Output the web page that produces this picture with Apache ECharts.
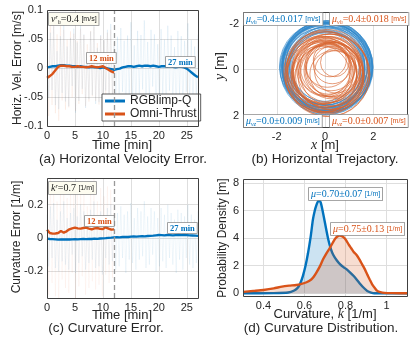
<!DOCTYPE html>
<html>
<head>
<meta charset="utf-8">
<script src="https://cdn.jsdelivr.net/npm/echarts@6/dist/echarts.min.js"></script>
<style>
  html, body { margin: 0; padding: 0; background: #fff; }
  #chart { width: 416px; height: 339px; }
</style>
</head>
<body>
<div id="chart"></div>
<script>
// ---- data ----
// (a) horizontal velocity error, smoothed, sampled every 0.5 min
var velErrQ = [0.001,0.002,0.003,0.003,0.004,0.005,0.005,0.004,0.004,0.003,0.003,0.002,0.003,0.002,0.002,0.001,0.002,0.001,0.001,0.000,
  0.001,0.000,-0.001,-0.002,-0.003,-0.002,-0.001,0.001,0.002,0.003,0.003,0.002,0.003,0.004,0.003,0.004,0.004,0.003,0.004,0.003,
  0.002,0.003,0.003,0.002,0.003,0.002,0.001,0.002,0.002,0.001,-0.001,-0.005,-0.009,-0.013,-0.016];
var velErrO = [-0.017,-0.014,-0.010,-0.004,0.002,0.004,0.004,0.003,0.003,0.002,0.002,0.003,0.002,0.002,0.001,0.002,0.003,0.002,0.001,0.002,
  0.003,0.000,-0.003,-0.006,-0.008];
// raw (unsmoothed) error, sampled every 0.3 min
var velRawQ = [0.046,-0.052,0.061,-0.038,0.072,-0.064,0.029,-0.071,0.055,-0.043,0.083,-0.058,0.037,-0.066,0.052,-0.031,0.068,-0.077,0.044,-0.057,
  0.074,-0.036,0.058,-0.069,0.027,-0.054,0.063,-0.047,0.088,-0.062,0.035,-0.059,0.057,-0.081,0.048,-0.039,0.066,-0.055,0.076,-0.049,
  0.038,-0.067,0.054,-0.058,0.069,-0.041,0.047,-0.079,0.056,-0.046,0.079,-0.053,0.039,-0.068,0.064,-0.044,0.057,-0.037,0.082,-0.063,
  0.045,-0.056,0.066,-0.032,0.058,-0.076,0.041,-0.061,0.067,-0.048,0.049,-0.065,0.073,-0.039,0.056,-0.058,0.036,-0.078,0.064,-0.047,
  0.055,-0.069,0.047,-0.041,0.077,-0.057,0.048,-0.064,0.037,-0.051,0.058];
var velRawO = [0.071,-0.083,0.092,-0.064,0.085,-0.078,0.058,-0.091,0.074,-0.056,0.066,-0.072,0.049,-0.068,0.063,-0.051,0.059,-0.074,0.047,-0.062,
  0.068,-0.045,0.057,-0.066,0.041,-0.058,0.064,-0.049,0.071,-0.057,0.043,-0.063,0.055,-0.069,0.048,-0.052,0.061,-0.047,0.066,-0.054,0.045];

// (b) trajectory loops: [cx, cy, r] in metres
var loopsQ = [[0.05,-0.1,1.85],[0.1,-0.05,1.9],[0.0,-0.15,1.8],[0.08,-0.12,1.95],[-0.02,-0.08,1.7],[0.12,-0.1,1.88],[0.05,0.0,1.62],
  [0.0,-0.2,1.82],[0.1,-0.15,1.92],[0.03,-0.05,1.55],[0.15,-0.08,1.85],[-0.05,-0.12,1.75],[0.07,-0.18,1.9],[0.02,0.02,1.68],
  [0.1,-0.1,1.5],[0.06,-0.06,1.98],[-0.08,-0.15,1.85],[0.15,-0.02,1.8],[0.0,-0.1,1.45],[0.08,-0.25,1.75],[0.04,-0.12,1.88],
  [0.18,-0.14,1.7],[-0.1,-0.04,1.8],[0.09,-0.08,1.93],[0.02,-0.1,1.6],[0.11,-0.16,1.8],[0.05,0.05,1.86],[-0.04,-0.22,1.73],
  [0.07,-0.07,1.9],[0.16,-0.11,1.65]];
var loopsO = [[0.1,0.1,1.5],[0.0,0.2,1.6],[0.2,0.0,1.4],[-0.1,0.15,1.3],[0.15,0.25,1.75],[0.05,-0.05,1.2],[0.25,0.1,1.6],
  [-0.15,0.3,1.5],[0.1,0.35,1.55],[0.3,0.2,1.35],[0.0,0.0,1.1],[0.2,-0.1,1.25],[-0.05,0.1,1.7],[0.15,0.05,1.0],[0.35,0.0,1.15],
  [0.1,0.2,1.8],[-0.2,0.05,1.45],[0.05,0.3,1.3],[0.25,-0.15,1.05],[0.3,-0.2,0.8],[0.4,-0.3,0.6],[0.2,-0.4,0.7],[0.45,0.1,0.9],
  [0.1,-0.2,0.95],[-0.1,0.25,1.6],[0.2,0.15,1.65],[0.0,0.1,1.35],[0.15,0.4,1.45],[0.3,0.05,1.2],[-0.05,-0.1,1.55],[0.25,0.3,1.4],
  [0.1,0.0,1.7],[-0.15,0.2,1.2],[0.35,0.2,1.0],[0.05,0.15,1.45]];

// (c) curvature error, smoothed, every 0.5 min
var curvErrQ = [-0.004,-0.006,-0.007,-0.008,-0.010,-0.009,-0.009,-0.008,-0.009,-0.008,-0.007,-0.008,-0.007,-0.006,-0.007,-0.006,-0.006,-0.004,-0.005,-0.003,
  -0.002,-0.001,0.001,0.002,0.004,0.005,0.004,0.006,0.007,0.006,0.008,0.009,0.008,0.010,0.011,0.010,0.012,0.013,0.014,0.016,
  0.018,0.017,0.016,0.018,0.017,0.016,0.017,0.018,0.017,0.018,0.017,0.016,0.015,0.014,0.013];
var curvErrO = [0.050,0.030,0.026,0.027,0.030,0.042,0.032,0.040,0.052,0.058,0.062,0.058,0.056,0.060,0.062,0.056,0.052,0.058,0.060,0.055,
  0.054,0.064,0.056,0.050,0.052];
var curvRawQ = [0.14,-0.17,0.19,-0.12,0.21,-0.18,0.11,-0.2,0.16,-0.14,0.22,-0.16,0.12,-0.19,0.15,-0.1,0.18,-0.21,0.13,-0.15,
  0.2,-0.11,0.16,-0.19,0.09,-0.15,0.17,-0.13,0.22,-0.18,0.11,-0.17,0.16,-0.22,0.13,-0.12,0.18,-0.16,0.2,-0.14,
  0.12,-0.19,0.15,-0.17,0.19,-0.12,0.14,-0.21,0.16,-0.13,0.21,-0.15,0.12,-0.19,0.18,-0.13,0.16,-0.11,0.22,-0.18,
  0.13,-0.16,0.18,-0.1,0.16,-0.2,0.12,-0.17,0.18,-0.14,0.14,-0.18,0.2,-0.12,0.15,-0.16,0.11,-0.21,0.17,-0.13,
  0.15,-0.19,0.13,-0.12,0.2,-0.16,0.14,-0.18,0.11,-0.15,0.16];
var curvRawO = [0.31,-0.34,0.36,-0.27,0.33,-0.35,0.22,-0.36,0.29,-0.25,0.35,-0.3,0.24,-0.33,0.3,-0.21,0.34,-0.36,0.26,-0.29,
  0.32,-0.23,0.28,-0.34,0.19,-0.3,0.33,-0.26,0.36,-0.31,0.22,-0.28,0.3,-0.35,0.25,-0.22,0.31,-0.27,0.29,-0.24,0.2];

// (d) curvature probability density
var kdeQx = [0.3,0.45,0.52,0.55,0.567,0.58,0.592,0.605,0.617,0.63,0.641,0.65,0.658,0.665,0.671,0.68,0.691,0.70,0.716,0.728,
  0.74,0.757,0.774,0.79,0.806,0.823,0.84,0.857,0.873,0.89,0.906,0.925,0.94,1.0,1.1];
var kdeQy = [0,0.01,0.05,0.2,0.4,0.75,1.25,2.0,2.9,4.1,5.35,6.0,6.4,6.65,6.75,6.55,5.8,5.1,3.9,3.25,
  2.8,2.4,2.1,1.9,1.73,1.5,1.25,0.95,0.65,0.38,0.17,0.05,0.0,0,0];
var kdeOx = [0.3,0.35,0.4,0.45,0.49,0.525,0.56,0.585,0.61,0.633,0.645,0.658,0.675,0.69,0.707,0.724,0.737,0.749,0.76,0.77,
  0.78,0.79,0.803,0.815,0.828,0.84,0.85,0.86,0.87,0.881,0.894,0.906,0.918,0.93,0.943,0.955,0.97,0.99,1.03,1.1];
var kdeOy = [0.1,0.17,0.24,0.35,0.48,0.55,0.6,0.68,0.8,1.0,1.2,1.5,1.95,2.45,2.9,3.3,3.65,3.95,4.12,4.2,
  4.17,4.07,3.85,3.55,3.27,3.0,2.85,2.65,2.4,2.1,1.75,1.37,1.0,0.65,0.38,0.17,0.08,0.03,0.01,0];

var switchTime = 12;

// ---- styling ----
var SANS = "'Liberation Sans', Arial, sans-serif";
var SERIF = "'Liberation Serif', 'DejaVu Serif', serif";
var BLUE = '#0072BD', ORANGE = '#D95319';
var GRIDC = '#dedede', NONE = 'rgba(0,0,0,0)';
var TXT = '#262626';

var grids = [
  {left: 47, top: 10, width: 151, height: 116},
  {left: 243, top: 12, width: 164, height: 115},
  {left: 47, top: 178, width: 151, height: 120},
  {left: 243, top: 179, width: 164, height: 117}
];

function onStep(v, step) { return Math.abs(v / step - Math.round(v / step)) < 1e-6; }
function pairs(arr, dt) { return arr.map(function (v, i) { return [i * dt, v]; }); }
function xy(xs, ys) { return xs.map(function (x, i) { return [x, ys[i]]; }); }

function axis(grid, min, max, interval, fmt, colors, extra) {
  var a = {
    gridIndex: grid, type: 'value', min: min, max: max, interval: interval,
    axisLine: {show: false}, axisTick: {show: false},
    splitLine: {show: true, lineStyle: {color: colors || GRIDC, width: 1}},
    axisLabel: {margin: 4, fontSize: 11, color: TXT, fontFamily: SANS, formatter: fmt}
  };
  for (var k in extra) a[k] = extra[k];
  return a;
}

var timeFmt = function (v) { return v % 5 === 0 ? String(v) : ''; };

var xAxes = [
  axis(0, 0, 27, 5, timeFmt),
  axis(1, -3.4, 3.4, 0.2, function (v) { return onStep(v, 2) ? String(Math.round(v)) : ''; },
    [NONE, NONE, NONE, NONE, NONE, NONE, NONE, GRIDC, NONE, NONE]),
  axis(2, 0, 27, 5, timeFmt),
  axis(3, 0.3, 1.1, 0.1, function (v) {
    var r = Math.round(v * 10);
    if (r % 2 !== 0 || r < 4 || r > 10) return '';
    return r === 10 ? '1' : (r / 10).toFixed(1);
  }, [NONE, GRIDC])
];

var yAxes = [
  axis(0, -0.1, 0.1, 0.05, function (v) {
    var r = Math.round(v * 100);
    return {'10': '0.1', '5': '.05', '0': '0', '-5': '-.05', '-10': '-0.1'}[String(r)] || '';
  }),
  axis(1, -2.5, 2.5, 0.5, function (v) { return onStep(v, 2) ? String(Math.round(v)) : ''; },
    [NONE, GRIDC, NONE, NONE], {inverse: true}),
  axis(2, -0.36, 0.36, 0.04, function (v) {
    if (!onStep(v, 0.2)) return '';
    var r = Math.round(v * 10) / 10;
    return r === 0 ? '0' : r.toFixed(1);
  }, [NONE, NONE, NONE, NONE, GRIDC]),
  axis(3, -0.2, 8.3, 0.2, function (v) {
    var r = Math.round(v * 10);
    return (r >= 0 && r % 20 === 0) ? String(r / 10) : '';
  }, [NONE, GRIDC, NONE, NONE, NONE, NONE, NONE, NONE, NONE, NONE])
];

function rawLine(name, grid, data, color, op) {
  return {name: name, type: 'line', xAxisIndex: grid, yAxisIndex: grid, data: data, symbol: 'none',
    silent: true, z: 1, lineStyle: {color: color, width: 0.6, opacity: op}};
}
function mainLine(name, grid, data, color, z) {
  return {name: name, type: 'line', xAxisIndex: grid, yAxisIndex: grid, data: data, symbol: 'none',
    silent: true, z: z, itemStyle: {color: color}, lineStyle: {color: color, width: 2.4}};
}
var switchMark = {
  silent: true, symbol: ['none', 'none'], label: {show: false},
  lineStyle: {color: '#999', type: [5, 3], width: 1.3}, data: [{xAxis: switchTime}]
};
function loops(name, data, color) {
  return {
    name: name, type: 'custom', xAxisIndex: 1, yAxisIndex: 1, coordinateSystem: 'cartesian2d',
    data: data, silent: true, clip: true,
    renderItem: function (params, api) {
      var c = api.coord([api.value(0), api.value(1)]);
      var s = api.size([api.value(2), api.value(2)]);
      return {type: 'circle', shape: {cx: c[0], cy: c[1], r: (s[0] + s[1]) / 2},
        style: {fill: 'none', stroke: color, lineWidth: 0.75, opacity: 0.85}};
    }
  };
}

var series = [
  rawLine('q-raw-a', 0, pairs(velRawQ, 0.3), BLUE, 0.12),
  rawLine('o-raw-a', 0, pairs(velRawO, 0.3), ORANGE, 0.1),
  mainLine('RGBlimp-Q', 0, pairs(velErrQ, 0.5), BLUE, 3),
  Object.assign(mainLine('Omni-Thrust', 0, pairs(velErrO, 0.5), ORANGE, 4), {markLine: switchMark}),
  loops('q-traj', loopsQ, '#3289cb'),
  loops('o-traj', loopsO, '#d8642f'),
  rawLine('q-raw-c', 2, pairs(curvRawQ, 0.3), BLUE, 0.1),
  rawLine('o-raw-c', 2, pairs(curvRawO, 0.3), ORANGE, 0.07),
  mainLine('q-curv', 2, pairs(curvErrQ, 0.5), BLUE, 3),
  Object.assign(mainLine('o-curv', 2, pairs(curvErrO, 0.5), ORANGE, 4), {markLine: switchMark}),
  Object.assign(mainLine('q-kde', 3, xy(kdeQx, kdeQy), BLUE, 3), {smooth: 0.2, areaStyle: {color: BLUE, opacity: 0.2}}),
  Object.assign(mainLine('o-kde', 3, xy(kdeOx, kdeOy), ORANGE, 4), {smooth: 0.2, areaStyle: {color: ORANGE, opacity: 0.2}})
];

// ---- text boxes, axis titles, captions, frames ----
var boxStyle = {backgroundColor: '#fff', borderColor: '#8a8a8a', borderWidth: 0.8};
function tbox(x, y, text, rich, color, extra) {
  var st = {text: text, rich: rich, fill: color, align: 'left', verticalAlign: 'top', padding: [1, 2, 0, 2]};
  for (var k in boxStyle) st[k] = boxStyle[k];
  for (var e in extra) st[e] = extra[e];
  return {type: 'text', x: x, y: y, z: 50, silent: true, style: st};
}
function muRich(color) {
  return {
    m: {fontFamily: SERIF, fontStyle: 'italic', fontSize: 10, fill: color, lineHeight: 11},
    s: {fontFamily: SERIF, fontStyle: 'italic', fontSize: 6, fill: color, verticalAlign: 'bottom', lineHeight: 11},
    n: {fontFamily: SERIF, fontSize: 10, fill: color, lineHeight: 11},
    u: {fontFamily: SANS, fontSize: 7, fill: color, lineHeight: 11}
  };
}
var minRich = {b: {fontFamily: SERIF, fontWeight: 'bold', fontSize: 8.5, lineHeight: 9}};
var refRich = {
  v: {fontFamily: SERIF, fontStyle: 'italic', fontSize: 10, fill: '#222', lineHeight: 11},
  sp: {fontFamily: SERIF, fontStyle: 'italic', fontSize: 6, fill: '#222', verticalAlign: 'top', lineHeight: 11},
  sb: {fontFamily: SERIF, fontStyle: 'italic', fontSize: 6, fill: '#222', verticalAlign: 'bottom', lineHeight: 11},
  n: {fontFamily: SERIF, fontSize: 10, fill: '#222', lineHeight: 11},
  u: {fontFamily: SANS, fontSize: 7, fill: '#222', lineHeight: 11}
};
function label(x, y, text, size, rot, rich) {
  var el = {type: 'text', x: x, y: y, silent: true,
    style: {text: text, fontFamily: SANS, fontSize: size, fill: TXT, align: 'center', verticalAlign: 'middle', rich: rich}};
  if (rot) el.rotation = Math.PI / 2;
  return el;
}
var mathRich = {
  i: {fontFamily: SERIF, fontStyle: 'italic', fontSize: 14, fill: TXT},
  n: {fontFamily: SANS, fontSize: 13, fill: TXT}
};

var graphics = [];
grids.forEach(function (g) {
  graphics.push({type: 'rect', z: 40, silent: true,
    shape: {x: g.left + 0.5, y: g.top + 0.5, width: g.width, height: g.height},
    style: {fill: 'none', stroke: '#404040', lineWidth: 1}});
});
graphics.push(
  tbox(49, 13, '{v|v}{sp|r}{sb|h}{n|=0.4 }{u|[m/s]}', refRich, '#222', {backgroundColor: '#fdfcf0'}),
  tbox(87, 53, '{b|12 min}', {b: Object.assign({fill: ORANGE}, minRich.b)}, ORANGE),
  tbox(166, 57, '{b|27 min}', {b: Object.assign({fill: BLUE}, minRich.b)}, BLUE),
  tbox(244, 13, '{m|μ}{s|vh}{n|=0.4±0.017 }{u|[m/s]}', muRich(BLUE), BLUE),
  tbox(330, 13, '{m|μ}{s|vh}{n|=0.4±0.018 }{u|[m/s]}', muRich(ORANGE), ORANGE),
  tbox(244, 115, '{m|μ}{s|vz}{n|=0.0±0.009 }{u|[m/s]}', muRich(BLUE), BLUE),
  tbox(330, 115, '{m|μ}{s|vz}{n|=0.0±0.007 }{u|[m/s]}', muRich(ORANGE), ORANGE),
  tbox(49, 182, '{v|k}{sp|r}{n|=0.7 }{u|[1/m]}', refRich, '#222', {backgroundColor: '#fdfcf0'}),
  tbox(85, 216, '{b|12 min}', {b: Object.assign({fill: ORANGE}, minRich.b)}, ORANGE),
  tbox(168, 223, '{b|27 min}', {b: Object.assign({fill: BLUE}, minRich.b)}, BLUE),
  tbox(309, 188, '{m|μ}{n|=0.70±0.07 }{u|[1/m]}', muRich(BLUE), BLUE),
  tbox(331, 223, '{m|μ}{n|=0.75±0.13 }{u|[1/m]}', muRich(ORANGE), ORANGE),

  label(17.5, 68, 'Horiz. Vel. Error [m/s]', 12, true),
  label(122, 145, 'Time [min]', 13),
  label(123, 159, '(a) Horizontal Velocity Error.', 13.5),
  label(220, 66, '{i|y}{n| [m]}', 13, true, mathRich),
  label(325, 145, '{i|x}{n| [m]}', 13, false, mathRich),
  label(325, 159, '(b) Horizontal Trejactory.', 13.5),
  label(16.5, 237, 'Curvature Error [1/m]', 12, true),
  label(122, 315, 'Time [min]', 13),
  label(106, 328, '(c) Curvature Error.', 13.5),
  label(223, 238, 'Probability Density [m]', 12, true),
  label(325, 314, '{n|Curvature, }{i|k}{n| [1/m]}', 13, false, mathRich),
  label(321, 328, '(d) Curvature Distribution.', 13.5)
);

var chart = echarts.init(document.getElementById('chart'));
chart.setOption({
  animation: false,
  backgroundColor: '#fff',
  grid: grids,
  xAxis: xAxes,
  yAxis: yAxes,
  legend: {
    data: ['RGBlimp-Q', 'Omni-Thrust'], orient: 'vertical', left: 102, top: 94,
    icon: 'rect', itemWidth: 20, itemHeight: 3, itemGap: 1, selectedMode: false,
    padding: [1, 4, 1, 3], backgroundColor: '#fff', borderColor: '#333', borderWidth: 0.8,
    textStyle: {fontFamily: SANS, fontSize: 12, color: TXT, lineHeight: 12}
  },
  series: series,
  graphic: graphics
});
</script>
</body>
</html>
